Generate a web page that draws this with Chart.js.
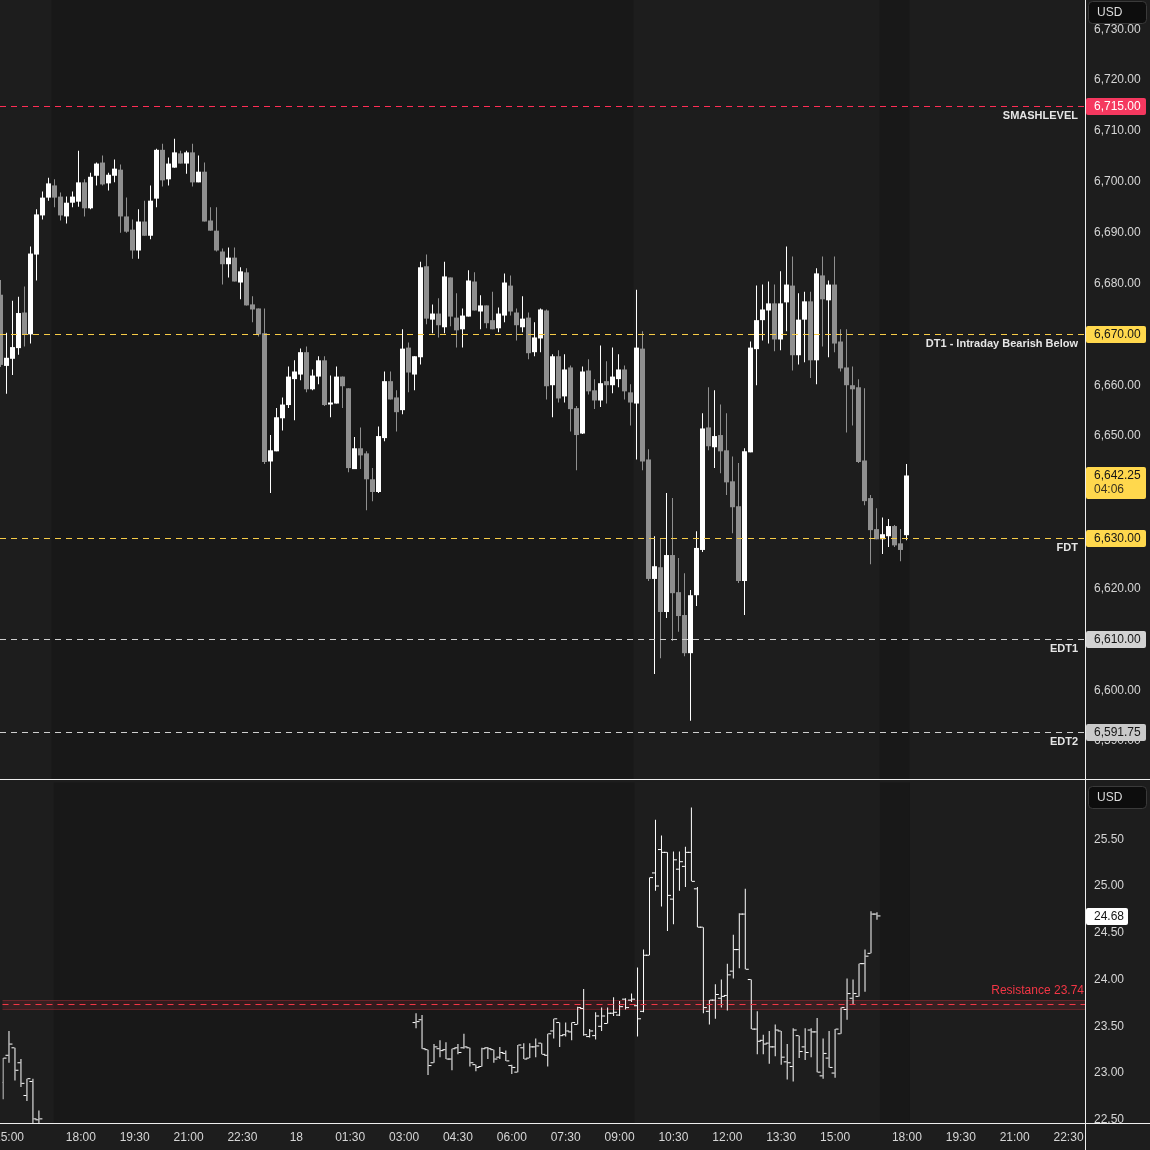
<!DOCTYPE html>
<html><head><meta charset="utf-8">
<script src="https://cdn.jsdelivr.net/npm/chart.js@4.4.1/dist/chart.umd.min.js"></script>
<style>
html,body{margin:0;padding:0;background:#1d1d1d;}
#wrap{position:relative;width:1150px;height:1150px;overflow:hidden;background:#1d1d1d;}
canvas{position:absolute;left:0;}
</style></head><body>
<div id="wrap">
<canvas id="top" width="1150" height="780" style="top:0"></canvas>
<canvas id="bot" width="1150" height="370" style="top:780px"></canvas>
</div>
<script>
// ---------- DATA (10-minute bars, slot index; slot 0 = 15:00 on day 1) ----------
const FIRST_SLOT = -1;
const topOpen = [
6677.8,6663.8,6665.2,6667.3,6674.3,6670.0,6685.7,6693.4,6696.9,6699.3,
6697.1,6693.2,6695.9,6696.1,6699.9,6694.8,6701.2,6703.8,6699.7,6701.2,
6702.4,6693.2,6690.6,6686.5,6692.2,6689.4,6696.7,6706.3,6700.5,6702.8,
6705.6,6703.6,6705.8,6699.9,6702.0,6692.4,6690.4,6686.3,6683.8,6685.1,
6680.2,6682.2,6675.9,6675.1,6670.2,6645.0,6647.0,6653.5,6656.1,6661.2,
6662.1,6666.5,6659.2,6661.7,6664.9,6656.2,6656.4,6661.7,6659.4,6643.5,
6647.6,6646.6,6641.5,6639.0,6649.6,6660.8,6657.6,6655.1,6667.4,6662.1,
6665.5,6683.4,6672.9,6674.1,6671.4,6681.2,6673.3,6671.0,6673.5,6680.4,
6674.5,6675.7,6672.8,6671.2,6673.7,6679.6,6674.3,6671.4,6673.3,6666.5,
6669.2,6674.7,6660.0,6665.7,6657.8,6663.5,6655.5,6650.5,6662.9,6659.0,
6657.0,6660.8,6660.0,6661.2,6663.1,6658.6,6656.4,6667.2,6645.4,6621.9,
6624.2,6615.4,6626.6,6619.3,6614.8,6607.3,6618.7,6627.6,6651.7,6647.8,
6650.2,6647.2,6641.1,6636.2,6621.5,6646.8,6667.1,6672.8,6674.7,6676.1,
6669.0,6676.3,6679.6,6665.9,6672.9,6676.5,6664.9,6681.6,6676.7,6679.8,
6668.6,6663.5,6660.0,6659.6,6645.2,6637.8,6631.7,6629.7,6630.3,6632.3,
6628.9,6630.5];
const topHigh = [
6680.7,6670.3,6676.6,6677.4,6679.4,6687.3,6694.6,6698.1,6700.8,6700.5,
6697.9,6697.1,6698.1,6706.1,6700.5,6701.8,6703.8,6705.2,6701.8,6704.4,
6703.4,6696.9,6692.6,6694.6,6696.3,6699.3,6706.5,6707.5,6704.8,6708.5,
6706.1,6706.1,6707.5,6705.2,6703.8,6695.0,6695.0,6686.9,6687.1,6687.1,
6683.2,6683.0,6677.5,6675.1,6675.1,6650.2,6655.5,6657.6,6663.7,6664.9,
6667.2,6667.6,6663.1,6665.7,6665.7,6661.9,6663.7,6661.7,6659.4,6649.8,
6651.7,6647.0,6643.7,6651.9,6662.7,6662.7,6659.0,6671.0,6668.4,6665.7,
6684.3,6685.7,6675.9,6677.1,6684.3,6681.2,6678.1,6675.1,6682.6,6682.2,
6677.7,6675.7,6678.4,6675.3,6682.0,6681.6,6675.1,6677.5,6674.3,6672.4,
6675.1,6674.9,6666.1,6666.9,6666.1,6663.9,6655.9,6663.7,6665.1,6661.2,
6667.8,6664.7,6667.4,6666.1,6663.9,6660.2,6678.8,6670.6,6647.4,6630.3,
6629.9,6638.8,6637.8,6626.0,6623.0,6619.7,6631.3,6654.5,6659.6,6659.0,
6656.2,6654.5,6646.0,6644.7,6647.6,6668.6,6679.6,6679.8,6680.4,6679.8,
6682.4,6687.3,6685.3,6678.1,6678.4,6678.4,6683.0,6685.3,6680.6,6685.3,
6671.0,6671.0,6663.7,6661.2,6659.4,6638.4,6635.8,6634.0,6633.7,6632.5,
6631.7,6644.5];
const topLow = [
6663.6,6658.3,6662.0,6666.0,6667.6,6668.2,6680.6,6692.6,6696.3,6695.0,
6692.4,6691.8,6695.0,6695.1,6693.2,6694.6,6699.3,6699.3,6698.3,6699.9,
6690.0,6690.0,6684.9,6684.9,6689.4,6688.7,6695.0,6699.1,6699.3,6702.8,
6703.6,6701.6,6699.1,6699.9,6692.2,6690.4,6686.3,6679.8,6681.2,6680.4,
6676.9,6675.7,6672.4,6669.6,6644.5,6638.8,6647.0,6651.1,6655.5,6653.1,
6661.0,6658.6,6659.0,6660.2,6655.9,6653.7,6656.4,6655.5,6642.9,6643.5,
6643.5,6635.4,6637.2,6638.8,6649.0,6657.2,6650.9,6654.3,6658.6,6659.0,
6664.1,6672.0,6670.2,6669.4,6670.2,6671.6,6667.4,6667.4,6673.5,6674.7,
6671.0,6671.2,6671.0,6670.4,6672.4,6673.7,6668.8,6670.4,6665.1,6665.7,
6666.5,6657.2,6653.7,6656.6,6656.6,6650.9,6643.3,6650.4,6658.2,6655.3,
6655.7,6656.4,6658.4,6659.6,6657.2,6652.1,6645.4,6643.3,6621.5,6603.2,
6606.3,6614.2,6609.7,6611.5,6606.7,6594.0,6616.6,6627.2,6647.2,6643.7,
6642.7,6638.4,6630.9,6621.1,6614.8,6646.8,6660.0,6668.8,6668.2,6666.7,
6666.9,6670.6,6662.9,6664.1,6664.5,6661.4,6660.2,6667.6,6665.5,6666.5,
6662.7,6650.7,6652.1,6644.7,6636.4,6624.8,6629.7,6626.8,6628.2,6628.2,
6625.4,6629.5];
const topClose = [
6664.0,6665.4,6667.5,6674.2,6670.0,6685.9,6693.6,6696.9,6699.7,6696.9,
6693.4,6695.9,6697.1,6699.9,6694.8,6701.0,6703.6,6699.5,6701.4,6702.6,
6693.2,6690.2,6686.5,6692.2,6689.4,6696.3,6706.3,6700.3,6703.6,6705.8,
6703.6,6705.8,6699.9,6702.0,6692.2,6690.4,6686.5,6683.8,6685.1,6680.4,
6682.4,6675.7,6674.9,6670.0,6644.9,6647.2,6653.7,6656.2,6661.7,6662.7,
6666.5,6659.2,6661.9,6664.9,6656.1,6656.6,6661.7,6659.8,6643.7,6647.6,
6646.2,6641.5,6639.0,6650.0,6660.8,6657.2,6654.7,6667.2,6662.5,6665.7,
6683.2,6673.1,6674.1,6671.8,6681.4,6673.5,6670.8,6673.7,6680.6,6674.7,
6675.7,6672.2,6671.0,6674.1,6680.2,6674.5,6671.8,6673.1,6666.3,6669.4,
6674.9,6659.8,6665.7,6657.4,6663.1,6655.3,6650.2,6662.7,6658.8,6657.0,
6660.4,6660.0,6661.7,6663.1,6658.8,6656.6,6667.4,6645.0,6621.9,6624.4,
6615.4,6626.6,6619.1,6614.6,6607.3,6618.7,6628.0,6651.5,6648.0,6650.0,
6647.0,6640.9,6636.0,6621.5,6647.0,6667.4,6672.8,6674.9,6676.1,6669.0,
6676.1,6679.8,6665.9,6672.9,6676.5,6664.9,6682.0,6676.9,6679.8,6668.2,
6663.3,6660.0,6659.2,6644.9,6637.2,6631.5,6629.7,6630.7,6632.3,6628.5,
6627.6,6642.25];

// lower pane (VIX-style OHLC bars); slots present in two runs
const vixSlotRuns = [[-1, 5], [68, 145]];
const vixOpen = [
22.90,23.19,23.27,23.11,22.76,22.91,22.50,
23.54,23.57,23.25,23.11,23.26,23.25,23.15,23.27,23.27,23.27,
23.09,23.07,23.27,23.25,23.17,23.21,23.08,23.01,23.27,23.16,
23.28,23.32,23.19,23.45,23.54,23.41,23.44,23.52,23.69,23.39,
23.40,23.50,23.53,23.64,23.62,23.79,23.78,23.72,23.66,24.26,
25.14,25.39,25.36,24.86,25.18,25.21,25.36,24.97,24.56,23.66,
23.78,23.80,23.83,24.09,24.32,24.70,24.00,23.47,23.35,23.32,
23.28,23.45,23.12,23.07,23.40,23.28,23.46,23.44,22.97,23.16,
23.00,23.42,23.68,23.80,23.82,24.17,24.28,24.70];
const vixHigh = [
23.16,23.45,23.27,23.15,22.94,22.94,22.60,
23.64,23.62,23.25,23.31,23.35,23.33,23.26,23.31,23.42,23.27,
23.09,23.27,23.28,23.25,23.28,23.24,23.09,23.30,23.32,23.32,
23.37,23.32,23.42,23.58,23.54,23.54,23.54,23.71,23.90,23.47,
23.65,23.70,23.70,23.81,23.77,23.80,23.85,24.13,24.32,25.09,
25.71,25.54,25.36,25.37,25.37,25.42,25.84,24.99,24.56,23.78,
23.95,24.00,24.17,24.48,24.71,24.97,24.00,23.66,23.41,23.45,
23.52,23.45,23.31,23.48,23.40,23.48,23.48,23.59,23.37,23.45,
23.47,23.70,24.01,24.00,24.17,24.32,24.73,24.72];
const vixLow = [
22.72,23.11,22.92,22.85,22.70,22.40,22.40,
23.48,23.26,22.98,23.11,23.17,23.15,23.03,23.20,23.26,23.07,
23.02,23.07,23.15,23.11,23.15,23.13,22.99,23.01,23.15,23.16,
23.17,23.20,23.07,23.37,23.28,23.39,23.35,23.52,23.40,23.38,
23.36,23.45,23.53,23.61,23.61,23.68,23.76,23.39,23.65,24.26,
24.95,24.78,24.52,24.59,24.95,24.99,25.05,24.56,23.64,23.52,
23.58,23.70,23.67,24.01,24.12,24.11,23.47,23.20,23.20,23.10,
23.18,23.09,22.93,22.91,23.16,23.14,23.17,23.01,22.94,23.06,
22.95,23.42,23.57,23.73,23.82,23.87,24.28,24.64];
const vixClose = [
23.16,23.31,23.03,22.89,22.94,22.51,22.51,
23.55,23.26,23.08,23.28,23.24,23.15,23.26,23.22,23.28,23.11,
23.06,23.26,23.26,23.15,23.22,23.13,23.06,23.30,23.15,23.28,
23.29,23.20,23.42,23.58,23.40,23.45,23.54,23.70,23.41,23.45,
23.61,23.61,23.64,23.65,23.71,23.70,23.79,23.58,24.26,25.09,
25.00,25.36,24.90,25.28,25.26,25.36,25.05,24.56,23.70,23.78,
23.84,23.82,24.05,24.32,24.70,24.11,23.47,23.34,23.31,23.28,
23.46,23.17,23.11,23.46,23.23,23.22,23.44,23.01,23.21,23.06,
23.47,23.70,23.85,23.85,24.17,24.25,24.70,24.68];

// levels / labels
const levelValues = [6715, 6670, 6630, 6610, 6591.75];
const levelNames = ['SMASHLEVEL', 'DT1 - Intraday Bearish Below', 'FDT', 'EDT1', 'EDT2'];
const lastPrice = 6642.25;
const barCountdown = '04:06';
const vixLast = 24.68;
const resistanceValue = 23.74;
const resistanceBand = [23.68, 23.78];
const resistanceName = 'Resistance';
const priceTicks = [6590,6600,6610,6620,6630,6640,6650,6660,6670,6680,6690,6700,6710,6720,6730];
const vixTicks = [22.5,23.0,23.5,24.0,24.5,25.0,25.5];
const timeTickSlots = [0,12,21,30,39,48,57,66,75,84,93,102,111,120,129,138,150,159,168,177];
const timeTickLabels = ['15:00','18:00','19:30','21:00','22:30','18','01:30','03:00','04:30','06:00','07:30','09:00','10:30','12:00','13:30','15:00','18:00','19:30','21:00','22:30'];
const darkSessions = [[7.5, 104.5], [145.5, 150.5]];

// ---------- STYLE ----------
const FONT = "'Liberation Sans', Arial, sans-serif";
const BG = '#1d1d1d', BG_DARK = '#181818';
const UP = '#ffffff', DOWN = '#8f8f8f';
const AXIS_TEXT = '#d6d6d6';
const LINE_WHITE = '#eeeeee';
const AXIS_W = 65;
const X_MIN = -1 - 0.5/6, X_MAX = X_MIN + 1085/6;
const LEVEL_STYLE = [
  {line:'#ff2d55', box:'#f5385f', text:'#ffffff'},
  {line:'#f7cc47', box:'#ffd84d', text:'#151515'},
  {line:'#f7cc47', box:'#ffd84d', text:'#151515'},
  {line:'#cfcfcf', box:'#d2d2d2', text:'#151515'},
  {line:'#cfcfcf', box:'#c9c9c9', text:'#151515'}
];
const RED = '#f23645';

Chart.defaults.font.family = FONT;
Chart.defaults.font.size = 12;
Chart.defaults.color = AXIS_TEXT;

const fmtPrice = v => v.toLocaleString('en-US', {minimumFractionDigits:2, maximumFractionDigits:2});
function noPad(s){ s.paddingLeft = 0; s.paddingRight = 0; s.paddingTop = 0; s.paddingBottom = 0; }
function box(ctx, x, y, w, h, r, fill, stroke){
  ctx.beginPath(); ctx.roundRect(x, y, w, h, r);
  if (fill){ ctx.fillStyle = fill; ctx.fill(); }
  if (stroke){ ctx.strokeStyle = stroke; ctx.lineWidth = 1; ctx.stroke(); }
}
function usdBox(ctx, y0){
  box(ctx, 1088.5, y0 + 0.5, 58, 22, 4, '#0d0d0d', '#3a3a3a');
  ctx.fillStyle = '#dcdcdc'; ctx.font = '12px ' + FONT; ctx.textAlign = 'left'; ctx.textBaseline = 'middle';
  ctx.fillText('USD', 1097, y0 + 12);
}

const bgPlugin = {
  id: 'bg',
  beforeDraw(chart){
    const ctx = chart.ctx, a = chart.chartArea, x = chart.scales.x;
    ctx.save();
    ctx.fillStyle = BG; ctx.fillRect(0, 0, chart.width, chart.height);
    ctx.fillStyle = BG_DARK;
    darkSessions.forEach(([s, e]) => {
      const x1 = x.getPixelForValue(s), x2 = x.getPixelForValue(e);
      ctx.fillRect(x1, a.top, x2 - x1, a.bottom - a.top);
    });
    ctx.restore();
  }
};

const xBase = { type:'linear', min:X_MIN, max:X_MAX, offset:false, grid:{display:false, drawTicks:false}, border:{display:false} };
const topSlots = topOpen.map((_, k) => FIRST_SLOT + k);

// ---------- TOP CHART ----------
const topOverlay = {
  id: 'topOverlay',
  afterDatasetsDraw(chart){
    const ctx = chart.ctx, a = chart.chartArea, y = chart.scales.y;
    ctx.save();
    levelValues.forEach((v, k) => {
      const py = Math.round(y.getPixelForValue(v)) + 0.5;
      ctx.strokeStyle = LEVEL_STYLE[k].line; ctx.lineWidth = 1; ctx.setLineDash([6, 5]);
      ctx.beginPath(); ctx.moveTo(a.left, py); ctx.lineTo(a.right, py); ctx.stroke();
      ctx.setLineDash([]);
      ctx.font = 'bold 11px ' + FONT; ctx.fillStyle = '#e6e6e6';
      ctx.textAlign = 'right'; ctx.textBaseline = 'middle';
      ctx.fillText(levelNames[k], a.right - 7, py + 9.5);
    });
    ctx.restore();
  },
  afterDraw(chart){
    const ctx = chart.ctx, a = chart.chartArea, y = chart.scales.y;
    ctx.save();
    ctx.font = '12px ' + FONT; ctx.textAlign = 'left'; ctx.textBaseline = 'middle';
    levelValues.forEach((v, k) => {
      const py = Math.round(y.getPixelForValue(v));
      box(ctx, 1086, py - 8, 60, 17, 2, LEVEL_STYLE[k].box);
      ctx.fillStyle = LEVEL_STYLE[k].text; ctx.fillText(fmtPrice(v), 1094, py + 0.5);
    });
    const pl = Math.round(y.getPixelForValue(lastPrice));
    box(ctx, 1086, pl - 8, 60, 32, 2, '#ffd84d');
    ctx.fillStyle = '#151515';
    ctx.fillText(fmtPrice(lastPrice), 1094, pl + 0.5);
    ctx.fillStyle = '#3a3220';
    ctx.fillText(barCountdown, 1094, pl + 15);
    usdBox(ctx, 1);
    ctx.fillStyle = LINE_WHITE;
    ctx.fillRect(1085, 0, 1, chart.height);
    ctx.fillRect(0, chart.height - 1, chart.width, 1);
    ctx.restore();
  }
};

new Chart(document.getElementById('top'), {
  type: 'bar',
  data: { datasets: [
    { data: topSlots.map((s, k) => ({x:s, y:[topLow[k], topHigh[k]], up: topClose[k] >= topOpen[k]})),
      barThickness: 1, grouped: false, inflateAmount: 0, borderWidth: 0,
      backgroundColor: c => (c.raw && c.raw.up) ? UP : DOWN },
    { data: topSlots.map((s, k) => {
        const lo = Math.min(topOpen[k], topClose[k]), hi = Math.max(topOpen[k], topClose[k]);
        return {x:s, y:[lo, Math.max(hi, lo + 0.2)], up: topClose[k] >= topOpen[k]};
      }),
      barThickness: 5, grouped: false, inflateAmount: 0, borderWidth: 0,
      backgroundColor: c => (c.raw && c.raw.up) ? UP : DOWN }
  ]},
  options: {
    responsive: false, animation: false, devicePixelRatio: 1, events: [],
    layout: { padding: {left:0, right:0, top:0, bottom:1} },
    plugins: { legend:{display:false}, tooltip:{enabled:false} },
    scales: {
      x: Object.assign({}, xBase, {display: false}),
      y: { type:'linear', position:'right', min:6582.55, max:6735.77,
           grid:{display:false, drawTicks:false}, border:{display:false},
           afterBuildTicks: s => { s.ticks = priceTicks.map(v => ({value:v})); },
           afterFit: s => { s.width = AXIS_W; noPad(s); },
           ticks: { padding: 9, color: AXIS_TEXT, font:{size:12}, callback: v => fmtPrice(v) } }
    }
  },
  plugins: [bgPlugin, topOverlay]
});

// ---------- BOTTOM CHART ----------
const vixSlots = [];
vixSlotRuns.forEach(([s, e]) => { for (let i = s; i <= e; i++) vixSlots.push(i); });
const TICK_SHIFT = 2/6;

const botOverlay = {
  id: 'botOverlay',
  beforeDatasetsDraw(chart){
    const ctx = chart.ctx, a = chart.chartArea, y = chart.scales.y;
    const y1 = y.getPixelForValue(resistanceBand[1]), y2 = y.getPixelForValue(resistanceBand[0]);
    ctx.save();
    ctx.fillStyle = 'rgba(242,54,69,0.13)';
    ctx.fillRect(a.left, y1, a.right - a.left, y2 - y1);
    ctx.strokeStyle = 'rgba(242,54,69,0.28)'; ctx.lineWidth = 1;
    ctx.beginPath();
    ctx.moveTo(a.left, Math.round(y1) + 0.5); ctx.lineTo(a.right, Math.round(y1) + 0.5);
    ctx.moveTo(a.left, Math.round(y2) + 0.5); ctx.lineTo(a.right, Math.round(y2) + 0.5);
    ctx.stroke();
    ctx.restore();
  },
  afterDatasetsDraw(chart){
    const ctx = chart.ctx, a = chart.chartArea, y = chart.scales.y;
    const py = Math.round(y.getPixelForValue(resistanceValue)) + 0.5;
    ctx.save();
    ctx.strokeStyle = RED; ctx.lineWidth = 1; ctx.setLineDash([6, 5]);
    ctx.beginPath(); ctx.moveTo(a.left, py); ctx.lineTo(a.right, py); ctx.stroke();
    ctx.setLineDash([]);
    ctx.font = '12px ' + FONT; ctx.fillStyle = RED; ctx.textAlign = 'right'; ctx.textBaseline = 'middle';
    ctx.fillText(resistanceName + ' ' + resistanceValue.toFixed(2), a.right - 1, py - 14);
    ctx.restore();
  },
  afterDraw(chart){
    const ctx = chart.ctx, a = chart.chartArea, y = chart.scales.y;
    ctx.save();
    ctx.fillStyle = BG; ctx.fillRect(1086, a.bottom + 1, chart.width - 1086, chart.height - a.bottom - 1);
    const pv = Math.round(y.getPixelForValue(vixLast));
    box(ctx, 1086, pv - 8, 42, 17, 2, '#ffffff');
    ctx.font = '12px ' + FONT; ctx.textAlign = 'left'; ctx.textBaseline = 'middle';
    ctx.fillStyle = '#151515'; ctx.fillText(vixLast.toFixed(2), 1094, pv + 0.5);
    usdBox(ctx, 6);
    ctx.fillStyle = LINE_WHITE;
    ctx.fillRect(1085, 0, 1, chart.height);
    ctx.fillRect(0, a.bottom, chart.width, 1);
    ctx.restore();
  }
};

const tickPoint = { pointStyle:'line', radius:1.5, borderWidth:1, borderColor:'#ffffff', backgroundColor:'#ffffff', hoverRadius:1.5 };

new Chart(document.getElementById('bot'), {
  type: 'bar',
  data: { datasets: [
    { type:'bar', data: vixSlots.map((s, k) => ({x:s, y:[vixLow[k], vixHigh[k]]})),
      barThickness: 1, grouped: false, inflateAmount: 0, borderWidth: 0, backgroundColor: '#ffffff' },
    Object.assign({ type:'scatter', data: vixSlots.map((s, k) => ({x: s - TICK_SHIFT, y: vixOpen[k]})) }, tickPoint),
    Object.assign({ type:'scatter', data: vixSlots.map((s, k) => ({x: s + TICK_SHIFT, y: vixClose[k]})) }, tickPoint)
  ]},
  options: {
    responsive: false, animation: false, devicePixelRatio: 1, events: [],
    layout: { padding: 0 },
    plugins: { legend:{display:false}, tooltip:{enabled:false} },
    scales: {
      x: Object.assign({}, xBase, {
        display: true, position: 'bottom',
        afterBuildTicks: s => { s.ticks = timeTickSlots.map(v => ({value:v})); },
        afterFit: s => { s.height = 27; noPad(s); },
        ticks: { autoSkip:false, maxRotation:0, minRotation:0, padding:7, color: AXIS_TEXT, font:{size:12},
                 callback: (v, i) => timeTickLabels[i] }
      }),
      y: { type:'linear', position:'right', min:22.466, max:26.107,
           grid:{display:false, drawTicks:false}, border:{display:false},
           afterBuildTicks: s => { s.ticks = vixTicks.map(v => ({value:v})); },
           afterFit: s => { s.width = AXIS_W; noPad(s); },
           ticks: { padding: 9, color: AXIS_TEXT, font:{size:12}, callback: v => v.toFixed(2) } }
    }
  },
  plugins: [bgPlugin, botOverlay]
});
</script>
</body></html>
